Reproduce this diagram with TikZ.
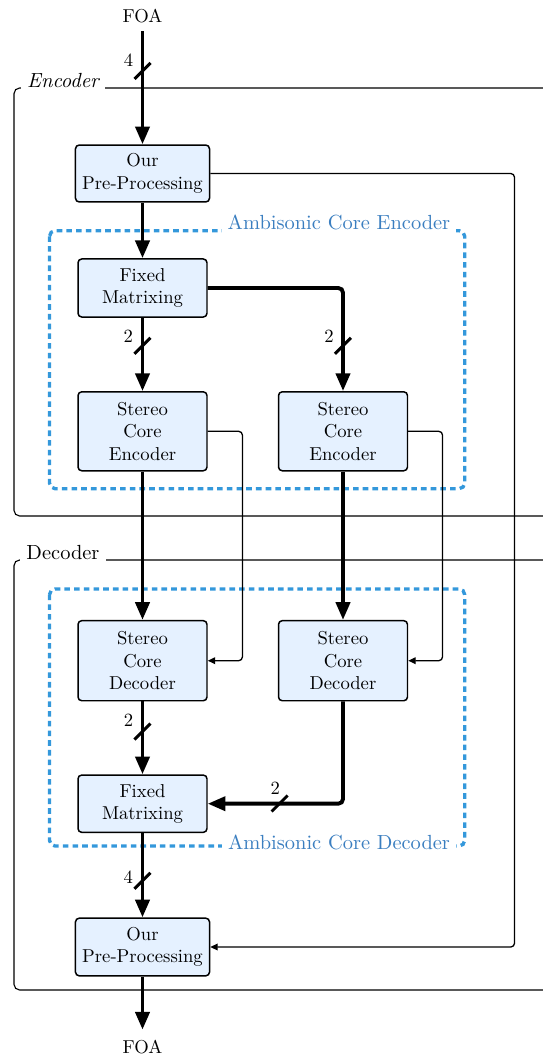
\documentclass[tikz,border=0pt]{standalone}
\usetikzlibrary{arrows.meta}
\definecolor{boxfill}{RGB}{229,241,255}
\definecolor{dotblue}{RGB}{52,152,219}
\definecolor{labblue}{RGB}{58,126,192}
\begin{document}
\begin{tikzpicture}[x=0.5357pt,y=-0.5357pt,
  blk/.style={draw, line width=0.8pt, fill=boxfill, rounded corners=2pt, align=center, inner sep=0pt, minimum width=69.1pt},
  big/.style={line width=2.1pt, -{Triangle[length=9.5pt,width=7.5pt]}, rounded corners=2.5pt},
  sml/.style={line width=0.7pt, -{Triangle[length=4pt,width=3.6pt]}, rounded corners=2pt},
  slashmk/.style={line width=1.6pt},
  frm/.style={line width=0.6pt, rounded corners=3pt},
  dots/.style={dotblue, line width=1.8pt, dash pattern=on 3pt off 2.2pt, rounded corners=3pt},
  bl/.style={labblue, fill=white, inner sep=3.33pt, font=\fontsize{10.95}{13.6}\selectfont},
  frmlab/.style={fill=white, inner sep=3.33pt}
]
\useasboundingbox (0,0) rectangle (543,1056);
\clip (0,0) rectangle (543,1056);

% frames
\draw[frm] (14,88) rectangle (600,516);
\node[frmlab, font=\fontsize{10.95}{13.6}\selectfont\itshape] (enclab) at (63,81) {Encoder};
\draw[frm] (14,560) rectangle (600,990);
\node[frmlab, font=\fontsize{10.95}{13.6}\selectfont] (declab) at (63,553) {Decoder};

% dotted groups
\draw[dots] (49.5,230.7) rectangle (464.7,488.7);
\node[bl] (acelab) at (339,222.7) {Ambisonic Core Encoder};
\draw[dots] (49.5,589) rectangle (464.7,846);
\node[bl] (acdlab) at (339,842.7) {Ambisonic Core Decoder};

% nodes
\node[inner sep=4.1pt] (foa1) at (142.5,16.5) {FOA};
\node[blk, minimum width=71.8pt, minimum height=30.5pt] (pre1) at (142.5,173.5) {Our\\Pre-Processing};
\node[blk, minimum height=31.1pt] (fm1) at (142.5,288) {Fixed\\Matrixing};
\node[blk, minimum height=42.3pt] (sce1) at (142.5,431.3) {Stereo\\Core\\Encoder};
\node[blk, minimum height=42.3pt] (sce2) at (343,431.3) {Stereo\\Core\\Encoder};
\node[blk, minimum height=42.9pt] (scd1) at (142.5,660.7) {Stereo\\Core\\Decoder};
\node[blk, minimum height=42.9pt] (scd2) at (343,660.7) {Stereo\\Core\\Decoder};
\node[blk, minimum height=30.7pt] (fm2) at (142.5,803.7) {Fixed\\Matrixing};
\node[blk, minimum width=71.8pt, minimum height=30.9pt] (pre2) at (142.5,947) {Our\\Pre-Processing};
\node[inner sep=5.4pt] (foa2) at (142.5,1047) {FOA};

% helper coordinates
\coordinate (rt) at (514.5,0);
\coordinate (x1) at (242.4,0);
\coordinate (x2) at (442.5,0);

% thick connectors
\draw[big] (foa1) -- (pre1);
\draw[big] (pre1) -- (fm1);
\draw[big] (fm1) -- (sce1);
\draw[big] (fm1.east) -| (sce2.north);
\draw[big] (sce1) -- (scd1);
\draw[big] (sce2) -- (scd2);
\draw[big] (scd1) -- (fm2);
\draw[big] (scd2.south) |- (fm2.east);
\draw[big] (fm2) -- (pre2);
\draw[big] (pre2) -- (foa2);

% thin connectors
\draw[sml] (pre1.east) -| (rt |- pre2.east) -- (pre2.east);
\draw[sml] (sce1.east) -| (x1 |- scd1.east) -- (scd1.east);
\draw[sml] (sce2.east) -| (x2 |- scd2.east) -- (scd2.east);

% bus-width slashes
\coordinate (s1) at (142.5,71);
\coordinate (s2) at (142.5,345.8);
\coordinate (s3) at (343,345.8);
\coordinate (s4) at (142.5,731.5);
\coordinate (s5) at (279.6,803.5);
\coordinate (s6) at (142.5,880.8);
\foreach \s in {s1,s2,s3,s4,s5,s6}
  \draw[slashmk] ([shift={(-8,8)}]\s) -- ([shift={(8,-8)}]\s);
\node (n1) at (128.5,60) {4};
\node (n2) at (128.3,336.7) {2};
\node (n3) at (329,336.7) {2};
\node (n4) at (128.5,720) {2};
\node (n5) at (275.3,788.3) {2};
\node (n6) at (128.3,876.7) {4};
\end{tikzpicture}
\end{document}
